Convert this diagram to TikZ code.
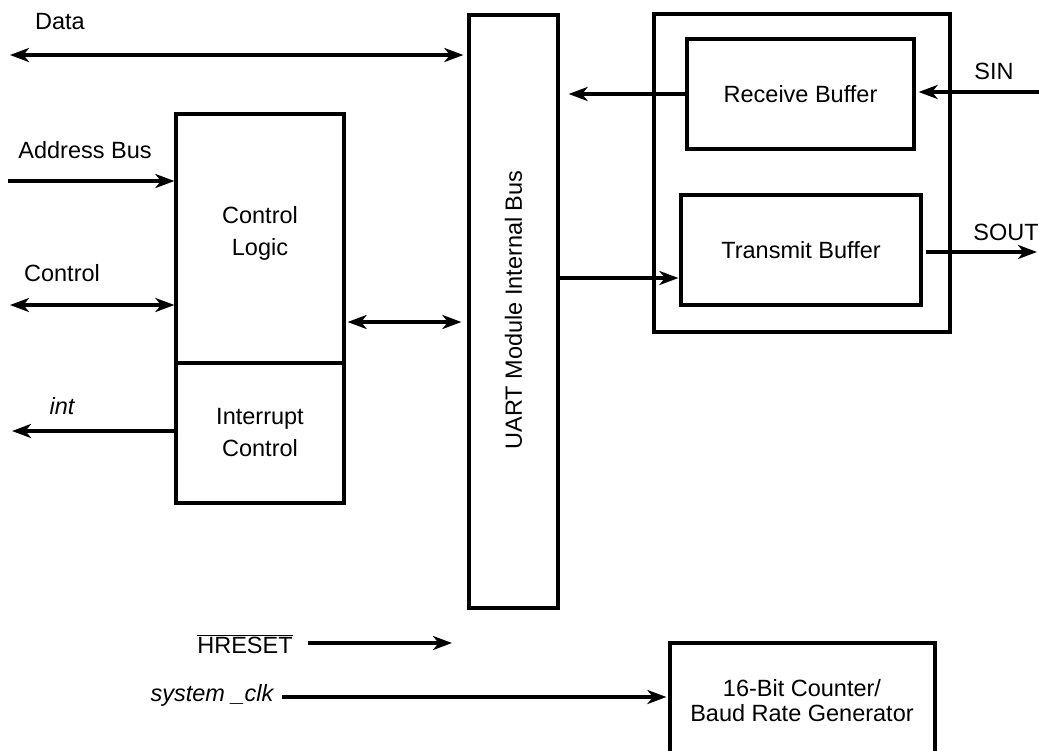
\documentclass[tikz,border=0pt]{standalone}
\usepackage{fontspec}
\setmainfont{Liberation Sans}
\usetikzlibrary{arrows.meta}
\begin{document}
\begin{tikzpicture}[x=1pt,y=-1pt,
  box/.style={draw, line width=3.2pt, inner sep=0pt, align=center, font=\fontsize{23.5}{32}\selectfont},
  lbl/.style={inner sep=0pt, align=center, font=\fontsize{23.5}{25}\selectfont},
  conn/.style={line width=3.2pt, -{Stealth[length=19pt,width=14pt,inset=5.5pt]}},
  biconn/.style={line width=3.2pt, {Stealth[length=19pt,width=14pt,inset=5.5pt]}-{Stealth[length=19pt,width=14pt,inset=5.5pt]}}]
\clip (0,0) rectangle (1039,750);
\fill[white] (0,0) rectangle (1039,750);
% boxes
\node[box, minimum width=89pt, minimum height=593pt] (bus) at (513.5,311.5) {};
\node[lbl, rotate=90] (bustxt) at (513.5,310) {UART Module Internal Bus};
\node[box, minimum width=168pt, minimum height=249pt] (cl) at (260,238.5) {};
\node[lbl, font=\fontsize{23.5}{32}\selectfont] (cltxt) at (260,233) {Control\\Logic};
\node[box, minimum width=168pt, minimum height=140pt] (ic) at (260,433) {Interrupt\\Control};
\node[box, minimum width=296pt, minimum height=318pt] (outer) at (802,173) {};
\node[box, minimum width=227pt, minimum height=110pt] (rb) at (800.5,94) {Receive Buffer};
\node[box, minimum width=240pt, minimum height=110pt] (tb) at (801,250) {Transmit Buffer};
\node[box, minimum width=265pt, minimum height=147pt] (cnt) at (802.5,716.5) {};
\node[lbl] (cnttxt) at (802,701) {16-Bit Counter/\\Baud Rate Generator};
% labels
\node[lbl] (datalbl) at (60,22) {Data};
\node[lbl] (addrlbl) at (85,150) {Address Bus};
\node[lbl] (ctllbl) at (62,273) {Control};
\node[lbl, font=\fontsize{23.5}{25}\selectfont\itshape] (intlbl) at (62,406) {int};
\node[lbl] (sinlbl) at (994,71) {SIN};
\node[lbl] (soutlbl) at (1006,232) {SOUT};
\node[lbl] (hrlbl) at (245,644) {$\overline{\mbox{HRESET}}$};
\node[lbl, font=\fontsize{23.5}{25}\selectfont\itshape] (clklbl) at (212,695) {system \_clk};
% coordinates
\coordinate (dataL) at (10,55);
\coordinate (addrL) at (8,181);
\coordinate (ctlL) at (10,305);
\coordinate (intL) at (12,431);
\coordinate (clbus) at (0,322);
\coordinate (rxy) at (0,94);
\coordinate (txy) at (0,278);
\coordinate (sinR) at (1039,92);
\coordinate (soutR) at (1037,252);
\coordinate (hrE) at (452,643);
\coordinate (clky) at (0,697);
% connectors
\draw[biconn, shorten >=4pt] (dataL) -- (dataL -| bus.west);
\draw[conn] (addrL) -- (addrL -| cl.west);
\draw[biconn] (ctlL) -- (ctlL -| cl.west);
\draw[conn, shorten <=-4pt] (intL -| ic.west) -- (intL);
\draw[biconn, shorten <=2pt, shorten >=6pt] (cl.east |- clbus) -- (bus.west |- clbus);
\draw[conn, shorten >=9pt] (rb.west |- rxy) -- (bus.east |- rxy);
\draw[conn, shorten >=1pt] (bus.east |- txy) -- (tb.west |- txy);
\draw[conn, shorten >=3pt] (sinR) -- (sinR -| rb.east);
\draw[conn, shorten <=3pt] (soutR -| tb.east) -- (soutR);
\draw[conn, shorten <=15pt] (hrlbl.east |- hrE) -- (hrE);
\draw[conn, shorten <=8pt, shorten >=2pt] (clklbl.east |- clky) -- (cnt.west |- clky);
\end{tikzpicture}
\end{document}
